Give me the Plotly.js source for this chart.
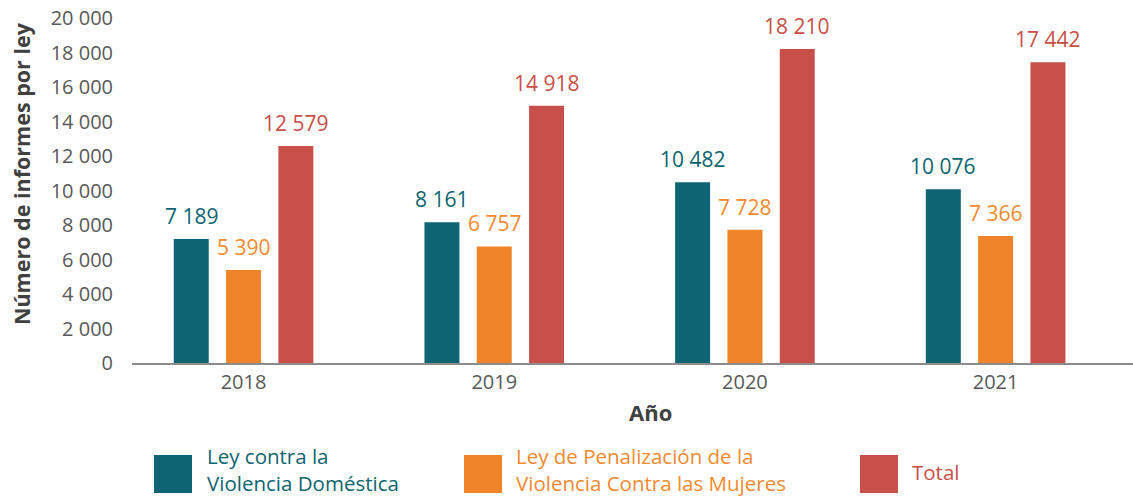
<!DOCTYPE html>
<html>
<head>
<meta charset="utf-8">
<script src="https://cdn.plot.ly/plotly-3.0.1.min.js"></script>
<style>html,body{margin:0;padding:0;background:#fff;}#chart{width:1133px;height:498px;}</style>
</head>
<body>
<div id="chart"></div>
<script>
const years = ['2018', '2019', '2020', '2021'];
const leyViolenciaDomestica = [7189, 8161, 10482, 10076];
const leyPenalizacion = [5390, 6757, 7728, 7366];
const total = [12579, 14918, 18210, 17442];
const seriesNames = ['Ley contra la<br>Violencia Doméstica', 'Ley de Penalización de la<br>Violencia Contra las Mujeres', 'Total'];
const colors = ['#0E6472', '#F0842B', '#C8504A'];
const labelColors = ['#0E6472', '#F28A30', '#C8504A'];
const yTickVals = [0, 2000, 4000, 6000, 8000, 10000, 12000, 14000, 16000, 18000, 20000];

const FONT = 'Open Sans, sans-serif';
const W = 1133, H = 498;
const M = {l: 132, r: 0, t: 18, b: 135};
const pw = W - M.l - M.r, ph = H - M.t - M.b;
const px2x = p => (p - M.l) / pw;
const py2y = p => (H - M.b - p) / ph;
const fmt = v => String(v).replace(/\B(?=(\d{3})+(?!\d))/g, ' ');

const allSeries = [leyViolenciaDomestica, leyPenalizacion, total];
const traces = allSeries.map((vals, i) => ({
  type: 'bar', x: years, y: vals, name: seriesNames[i],
  marker: {color: colors[i]}, showlegend: false, hoverinfo: 'skip'
}));

const catW = pw / (3.548 + 0.445);
const slot = catW * (1 - 0.374) / 3;
const annotations = [];
allSeries.forEach((vals, i) => {
  vals.forEach((v, j) => {
    annotations.push({
      x: j, y: v, xref: 'x', yref: 'y', text: fmt(v), showarrow: false,
      xshift: (i - 1) * slot, yshift: 23, yanchor: 'middle', xanchor: 'center',
      font: {family: FONT, size: 21, color: labelColors[i]}
    });
  });
});

// axis titles
annotations.push({
  xref: 'paper', yref: 'paper', x: px2x(21), y: py2y(174), text: '<b>Número de informes por ley</b>',
  textangle: -90, showarrow: false, xanchor: 'center', yanchor: 'middle',
  font: {family: FONT, size: 21.5, color: '#404040'}
});
annotations.push({
  xref: 'paper', yref: 'paper', x: px2x(650), y: py2y(412), text: '<b>Año</b>',
  showarrow: false, xanchor: 'center', yanchor: 'middle',
  font: {family: FONT, size: 22, color: '#404040'}
});

// custom legend
const legendSwatchX = [154, 464, 860];
const legendTextX = [206, 515, 911];
const legendTextY = [469, 469, 472];
const shapes = [];
seriesNames.forEach((n, i) => {
  shapes.push({
    type: 'rect', xref: 'paper', yref: 'paper',
    x0: px2x(legendSwatchX[i]), x1: px2x(legendSwatchX[i] + 38),
    y0: py2y(455), y1: py2y(493), fillcolor: colors[i], line: {width: 0}
  });
  annotations.push({
    xref: 'paper', yref: 'paper', x: px2x(legendTextX[i]), y: py2y(legendTextY[i]),
    text: n, showarrow: false, xanchor: 'left', yanchor: 'middle', align: 'left', borderpad: 0,
    font: {family: FONT, size: 20.5, color: labelColors[i]}
  });
});

const layout = {
  width: W, height: H, margin: M,
  paper_bgcolor: '#fff', plot_bgcolor: '#fff',
  separators: ', ',
  barmode: 'group', bargap: 0.374, bargroupgap: 0.331,
  font: {family: FONT, color: '#595959'},
  xaxis: {
    type: 'category', range: [-0.445, 3.548], showline: true, linecolor: '#8C8C8C', linewidth: 2,
    ticks: '', showgrid: false, zeroline: false,
    tickfont: {family: FONT, size: 20, color: '#595959'}, fixedrange: true
  },
  yaxis: {
    range: [0, 20000], tickvals: yTickVals, tickformat: ',d', showgrid: false, zeroline: false,
    showline: false, ticks: '', ticklabelstandoff: 18,
    tickfont: {family: FONT, size: 20, color: '#595959'}, fixedrange: true
  },
  annotations: annotations,
  shapes: shapes
};

Plotly.newPlot('chart', traces, layout, {displayModeBar: false, staticPlot: true});
</script>
</body>
</html>
